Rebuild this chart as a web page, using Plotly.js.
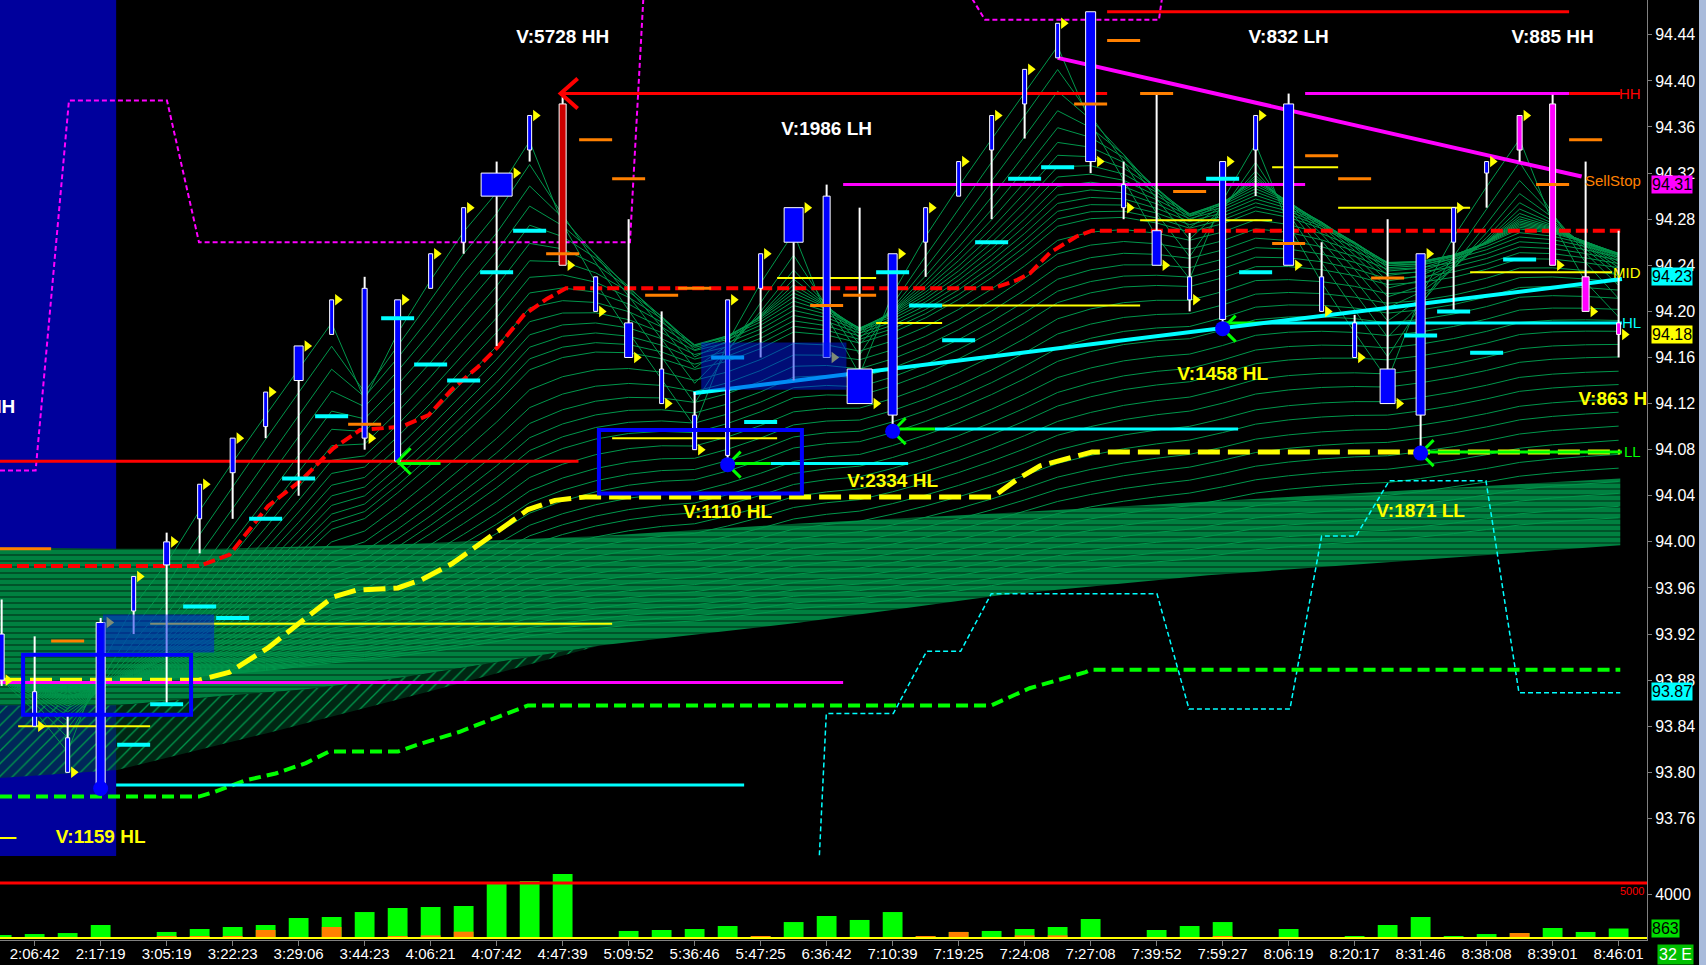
<!DOCTYPE html>
<html><head><meta charset="utf-8">
<script src="https://cdn.plot.ly/plotly-3.0.1.min.js"></script>
<style>html,body{margin:0;padding:0;background:#000;overflow:hidden}#chart{width:1706px;height:965px}</style>
</head><body><div id="chart"></div>
<script>
// ================= DATA =================
const timeLabels = ['2:06:42','2:17:19','3:05:19','3:22:23','3:29:06','3:44:23','4:06:21','4:07:42','4:47:39','5:09:52','5:36:46','5:47:25','6:36:42','7:10:39','7:19:25','7:24:08','7:27:08','7:39:52','7:59:27','8:06:19','8:20:17','8:31:46','8:38:08','8:39:01','8:46:01'];
const timeTickBars = [1,3,5,7,9,11,13,15,17,19,21,23,25,27,29,31,33,35,37,39,41,43,45,47,49];
const priceTicks = [93.76,93.80,93.84,93.88,93.92,93.96,94.00,94.04,94.08,94.12,94.16,94.20,94.24,94.28,94.32,94.36,94.40,94.44];
const volumeTicks = [4000];

const openP  = [93.92,93.87,93.83,93.786,93.94,93.98,94.02,94.06,94.10,94.14,94.18,94.22,94.07,94.22,94.26,94.30,94.34,94.38,94.23,94.19,94.15,94.11,94.075,94.22,94.26,94.30,94.15,94.11,94.26,94.30,94.34,94.38,94.42,94.46,94.31,94.27,94.23,94.193,94.34,94.38,94.23,94.19,94.15,94.11,94.26,94.32,94.34,94.38,94.23,94.19];
const highP  = [93.95,93.918,93.85,93.934,93.97,94.008,94.05,94.09,94.13,94.17,94.21,94.23,94.21,94.25,94.29,94.33,94.37,94.386,94.23,94.28,94.20,94.13,94.21,94.25,94.29,94.31,94.29,94.25,94.29,94.33,94.37,94.41,94.45,94.46,94.33,94.388,94.268,94.33,94.37,94.389,94.26,94.197,94.28,94.25,94.29,94.33,94.37,94.388,94.33,94.27];
const lowP   = [93.875,93.84,93.80,93.786,93.92,93.86,93.99,94.02,94.09,94.04,94.18,94.08,94.07,94.22,94.25,94.17,94.33,94.24,94.20,94.16,94.12,94.08,94.067,94.16,94.14,94.16,94.12,94.096,94.23,94.30,94.28,94.35,94.42,94.32,94.28,94.24,94.20,94.185,94.30,94.24,94.20,94.16,94.12,94.077,94.20,94.29,94.33,94.24,94.20,94.16];
const closeP = [93.88,93.84,93.80,93.93,93.97,94.00,94.05,94.09,94.13,94.17,94.21,94.09,94.21,94.25,94.29,94.32,94.37,94.24,94.20,94.16,94.12,94.08,94.21,94.25,94.29,94.16,94.12,94.25,94.29,94.33,94.37,94.41,94.45,94.33,94.29,94.24,94.21,94.33,94.37,94.24,94.20,94.16,94.12,94.25,94.29,94.33,94.37,94.24,94.20,94.18];

const volume     = [270,360,450,1180,90,550,820,1000,1180,1820,1910,2360,2730,2820,2910,4910,5180,5820,0,640,730,820,1090,180,1450,2000,1640,2360,180,550,640,820,1000,1730,90,730,1090,1450,90,820,90,180,1180,1910,180,360,450,910,550,863];
const sellVolume = [60,0,0,0,0,180,180,180,730,0,1000,0,180,240,575,90,90,0,0,0,0,90,0,180,90,0,0,0,180,550,0,240,240,0,0,0,0,180,90,0,0,0,0,0,0,0,450,0,90,0];
const volumeAlert = 5000;

// indicator curves (bar index, price)
const redDashX = [-0.05,5.98,6.91,8.07,9.1,10.04,10.86,11.56,12.13,12.94,13.64,14.44,15.03,15.83,16.53,17.1,30.04,30.76,31.16,31.77,32.57,33.04,49.05];
const redDashY = [93.979,93.979,93.989,94.031,94.054,94.081,94.097,94.099,94.100,94.110,94.132,94.152,94.169,94.197,94.211,94.220,94.220,94.227,94.233,94.251,94.265,94.270,94.270];
const yellowDashX = [-0.05,5.98,6.91,8.07,9.22,10.04,10.74,12.01,12.71,13.64,14.68,15.38,15.95,16.77,17.69,30.04,30.76,31.47,32.57,33.04,49.05];
const yellowDashY = [93.880,93.880,93.887,93.908,93.934,93.952,93.958,93.960,93.967,93.981,94.002,94.016,94.028,94.036,94.039,94.039,94.054,94.066,94.074,94.078,94.078];
const greenDashX = [-0.05,5.98,6.44,7.38,8.3,9.22,9.92,12.01,12.71,13.86,15.03,15.95,29.98,31.15,32.85,33.0,49.05];
const greenDashY = [93.779,93.779,93.783,93.793,93.799,93.808,93.818,93.818,93.825,93.835,93.848,93.858,93.858,93.873,93.887,93.889,93.889];
const magentaDashX = [-0.05,1.03,2.04,5.01,5.98,19.04,19.5,28.8,29.8,35.07,35.3];
const magentaDashY = [94.062,94.062,94.383,94.383,94.26,94.26,94.50,94.50,94.453,94.453,94.50];
const cyanDashX = [24.78,24.99,27.02,28.03,29.06,29.99,35.01,35.98,39.04,40.0,41.04,42.05,44.98,45.98,49.05];
const cyanDashY = [93.728,93.851,93.851,93.905,93.905,93.955,93.955,93.855,93.855,94.005,94.005,94.053,94.053,93.869,93.869];

const bandX      = [-0.05,3.44,6.56,9.22,12.07,13.86,18.13,24.2,30.37,36.56,42.74,49.05];
const bandTop    = [93.995,93.994,93.994,93.996,93.998,94.000,94.005,94.016,94.025,94.035,94.045,94.055];
const bandBottom = [93.858,93.858,93.866,93.872,93.882,93.890,93.910,93.930,93.954,93.971,93.984,93.997];
const lowerMeshX      = [-0.05,3.5,8.04,13.07,18.13];
const lowerMeshBottom = [93.795,93.802,93.834,93.871,93.910];
const ribbonPeriods = [2,3,4,5,6,7,8,9,10,11,12,13,14,15,16,18,20,22,24,26,28,31,34,37,40,44,48,52,57,62,68,74,81,88,96,105,115,126,138,150,165,180];

// horizontal levels [fromBar, toBar, price]
const redLevels     = [[16.94,33.5,94.389],[33.5,47.5,94.46],[-0.05,17.48,94.07],[47.5,49.05,94.389]];
const magentaLevels = [[-0.05,25.5,93.878],[25.5,39.5,94.31],[39.5,47.5,94.389]];
const cyanLevels    = [[3.47,22.5,93.789],[23.3,27.47,94.068],[28.28,37.47,94.098],[38.2,49.1,94.19]];
const greenLevels   = [[12.0,13.3,94.068],[21.97,23.3,94.068],[26.97,28.28,94.098],[36.98,38.2,94.19],[42.98,49.1,94.078]];
const yellowLevels  = [[-0.05,0.45,93.743],[0.5,4.5,93.84],[4.5,18.5,93.929],[18.5,23.5,94.09],[23.5,26.5,94.229],[26.5,28.5,94.19],[28.5,34.5,94.205],[34.5,38.5,94.279],[38.5,40.5,94.325],[40.5,44.5,94.29],[44.5,48.8,94.234]];
const orangeLevels  = [[-0.5,1.5,93.994]];
// per-bar stop ticks [bar, price]
const cyanTicks   = [[4,93.824],[5,93.859],[6,93.944],[7,93.934],[8,94.02],[9,94.055],[10,94.109],[12,94.194],[13,94.154],[14,94.14],[15,94.234],[16,94.27],[22,94.16],[23,94.104],[27,94.234],[28,94.205],[29,94.175],[30,94.26],[31,94.315],[32,94.325],[37,94.315],[38,94.234],[43,94.179],[44,94.2],[45,94.164],[46,94.245]];
const orangeTicks = [[2,93.914],[11,94.102],[17,94.25],[18,94.349],[19,94.315],[20,94.214],[21,94.22],[25,94.205],[26,94.214],[33,94.38],[34,94.435],[35,94.389],[36,94.304],[39,94.259],[40,94.335],[41,94.315],[42,94.229],[47,94.31],[48,94.349]];

const cyanTrendX = [20.96,49.1],  cyanTrendY = [94.129,94.228];
const magentaTrendX = [32.0,47.88], magentaTrendY = [94.42,94.317];

const pivotBars = [3,22,27,37,43];
const checkBars = [12,22,27,37,43];
const hhMarkX = [16.94], hhMarkY = [94.389];

const zoneX0 = [3.07,21.2], zoneX1 = [6.44,25.6], zoneLo = [93.904,94.132], zoneHi = [93.937,94.173];
const boxX0 = [0.65,18.1], boxX1 = [5.74,24.25], boxLo = [93.85,94.042], boxHi = [93.902,94.097];
const sessionShadeX = [-0.05,3.47];

const swingText = ['V:5728 HH','V:1986 LH','V:832 LH','V:885 HH'];
const swingX = [17,25,39,47];
const swingY = [94.437,94.357,94.437,94.437];
const cutTagText = ['HH'], cutTagX = [0.415], cutTagY = [94.116];
const pivotText = ['V:1159 HL','V:1110 HL','V:2334 HL','V:1458 HL','V:1871 LL','V:863 HL'];
const pivotX = [3,22,27,37,43,49];
const pivotY = [93.743,94.025,94.052,94.145,94.026,94.123];

const edgeTagText = ['HH','SellStop','MID','HL','LL'];
const edgeTagY = [94.389,94.314,94.234,94.19,94.078];
const priceTagY = [94.31,94.23,94.18,93.87];
const footerTag = '32 E';

// ================= STYLE =================
const FONT = 'Liberation Sans, Arial, sans-serif';
const bodyPx = [5,4,4,9,4,6,4,5,4,9,4,5,6,4,4,31,4,7,4,8,4,4,4,4,19,7,25,9,4,4,4,4,4,10,4,9,4,6,4,10,4,4,15,9,4,4,5,6,7,4];
const redBars = [17], magentaBars = [46,47,48,49];
const edgeTagColor = ['#ff0000','#ff8000','#ffff00','#00ffff','#00ff00'];
const priceTagColor = ['#ff00ff','#00ffff','#ffff00','#00ffff'];

const W = 1706, H = 965, M = {l:0, r:59, t:0, b:25};
const plotW = W - M.l - M.r, plotH = H - M.t - M.b;
const pricePanePx = 856;
const xRange = [-0.05, 49.86];
const yRange = [93.7274, 94.4702];
const volRange = [-182, 7455];
const priceDomain = [1 - pricePanePx/plotH, 1];
const pxPerBar = plotW/(xRange[1]-xRange[0]);
const pxPerPrice = pricePanePx/(yRange[1]-yRange[0]);

// ================= BUILD =================
const N = closeP.length;
const idx = Array.from({length:N}, (_, i) => i);
const skip = 'skip';

function segs(list){ const x=[], y=[]; list.forEach(([a,b,p]) => { x.push(a,b,null); y.push(p,p,null); }); return {x, y}; }
function tickSegs(list){ return segs(list.map(([i,p]) => [i-0.5, i+0.5, p])); }
function lines(xy, color, width, dash, extra){ return Object.assign({type:'scatter', mode:'lines', x:xy.x, y:xy.y, line:{color, width, dash:dash||'solid'}, hoverinfo:skip, connectgaps:false}, extra||{}); }

const traces = [];

// volume
traces.push({type:'bar', x:idx, y:volume, yaxis:'y2', width:0.6, marker:{color:'#00ff00', line:{width:0}}, hoverinfo:skip});
traces.push({type:'bar', x:idx, y:sellVolume, yaxis:'y2', width:0.6, marker:{color:'#ff8000', line:{width:0}}, hoverinfo:skip});

// lower mesh area under the band (left side)
(function(){
  const backX = [], backY = [];
  bandX.forEach((x,k) => { if (x <= lowerMeshX[lowerMeshX.length-1]) { backX.push(x); backY.push(bandBottom[k]); } });
  traces.push({type:'scatter', mode:'lines', x:lowerMeshX.concat(backX.reverse()), y:lowerMeshBottom.concat(backY.reverse()), fill:'toself', fillcolor:'rgba(0,120,60,0.5)',
    fillpattern:{shape:'/', bgcolor:'rgba(0,70,35,0.55)', fgcolor:'rgb(0,150,75)', size:9, solidity:0.15}, line:{width:0, color:'rgba(0,0,0,0)'}, hoverinfo:skip});
})();
// dense band
traces.push({type:'scatter', mode:'lines', x:bandX.concat(bandX.slice().reverse()), y:bandTop.concat(bandBottom.slice().reverse()), fill:'toself', fillcolor:'#008040',
  fillpattern:{shape:'-', bgcolor:'#008040', fgcolor:'#002010', size:6, solidity:0.16}, line:{width:0, color:'#008040'}, hoverinfo:skip});

// EMA ribbon of closes
(function(){
  const rx=[], ry=[];
  ribbonPeriods.forEach(p => {
    const a = 2/(p+1); let v = closeP[0];
    closeP.forEach((c,i) => { if (i>0) v = v + a*(c - v); rx.push(i); ry.push(v); });
    rx.push(null); ry.push(null);
  });
  traces.push(lines({x:rx, y:ry}, 'rgb(0,150,75)', 1));
})();

// thin dashed indicator lines
traces.push(lines({x:cyanDashX, y:cyanDashY}, '#00ffff', 1.5, '5px,3px'));
traces.push(lines({x:magentaDashX, y:magentaDashY}, '#ff00ff', 2, '5px,3px'));
// thick dashed curves
traces.push(lines({x:greenDashX, y:greenDashY}, '#00ff00', 4, '12px,6px'));
traces.push(lines({x:yellowDashX, y:yellowDashY}, '#ffff00', 5, '22px,8px'));
traces.push(lines({x:redDashX, y:redDashY}, '#ff0000', 4, '12px,5px'));

// levels
traces.push(lines(segs(yellowLevels), '#ffff00', 2));
traces.push(lines(segs(orangeLevels), '#ff8000', 3));
traces.push(lines(segs(magentaLevels), '#ff00ff', 3));
traces.push(lines(segs(redLevels), '#ff0000', 3));
traces.push(lines(segs(cyanLevels), '#00ffff', 3));
traces.push(lines(segs(greenLevels), '#00ff00', 3));
// trend lines
traces.push(lines({x:cyanTrendX, y:cyanTrendY}, '#00ffff', 4));
traces.push(lines({x:magentaTrendX, y:magentaTrendY}, '#ff00ff', 4));

// candle wicks
(function(){
  const wx=[], wy=[];
  idx.forEach(i => {
    const top = Math.max(openP[i], closeP[i]), bot = Math.min(openP[i], closeP[i]);
    if (highP[i] > top) { wx.push(i,i,null); wy.push(top, highP[i], null); }
    if (lowP[i] < bot)  { wx.push(i,i,null); wy.push(lowP[i], bot, null); }
  });
  traces.push(lines({x:wx, y:wy}, '#ffffff', 2));
})();
// candle bodies
function bodies(filter, color){
  const bx=[], by=[];
  idx.filter(filter).forEach(i => {
    const hw = bodyPx[i]/2/pxPerBar;
    const top = Math.max(openP[i], closeP[i]), bot = Math.min(openP[i], closeP[i]);
    bx.push(i-hw, i+hw, i+hw, i-hw, i-hw, null);
    by.push(bot, bot, top, top, bot, null);
  });
  return {type:'scatter', mode:'lines', x:bx, y:by, fill:'toself', fillcolor:color, line:{color:'#ffffff', width:1}, hoverinfo:skip};
}
traces.push(bodies(i => !redBars.includes(i) && !magentaBars.includes(i), '#0000ff'));
traces.push(bodies(i => redBars.includes(i), '#cc0000'));
traces.push(bodies(i => magentaBars.includes(i), '#ff00ff'));

// per-bar ticks
traces.push(lines(tickSegs(cyanTicks), '#00ffff', 4));
traces.push(lines(tickSegs(orangeTicks), '#ff8000', 3));

// chevrons
(function(){
  const dx = 13/pxPerBar, dy = 13/pxPerPrice;
  const gx=[], gy=[];
  checkBars.forEach(i => { gx.push(i+dx, i, i+dx, null); gy.push(lowP[i]+dy, lowP[i], lowP[i]-dy, null); });
  traces.push(lines({x:gx, y:gy}, '#00ff00', 3));
  const rdx = 17/pxPerBar, rdy = 15/pxPerPrice;
  const rx=[], ry=[];
  hhMarkX.forEach((x,k) => { rx.push(x+rdx, x, x+rdx, null); ry.push(hhMarkY[k]+rdy, hhMarkY[k], hhMarkY[k]-rdy, null); });
  traces.push(lines({x:rx, y:ry}, '#ff0000', 4));
})();

// pivot dots
traces.push({type:'scatter', mode:'markers', x:pivotBars, y:pivotBars.map(i => lowP[i]), marker:{symbol:'circle', size:15, color:'#0000ff', line:{width:0}}, hoverinfo:skip});
// close arrows
traces.push({type:'scatter', mode:'markers', x:idx.map(i => i + (bodyPx[i]/2 + 4)/pxPerBar), y:closeP, marker:{symbol:'triangle-right', size:10, color:'#ffff00', line:{width:0}}, hoverinfo:skip});

// text labels
traces.push({type:'scatter', mode:'text', x:swingX, y:swingY, text:swingText, textposition:'middle center', textfont:{family:FONT, size:19, color:'#ffffff', weight:'bold'}, hoverinfo:skip, cliponaxis:true});
traces.push({type:'scatter', mode:'text', x:cutTagX, y:cutTagY, text:cutTagText, textposition:'middle left', textfont:{family:FONT, size:19, color:'#ffffff', weight:'bold'}, hoverinfo:skip, cliponaxis:true});
traces.push({type:'scatter', mode:'text', x:pivotX, y:pivotY, text:pivotText, textposition:'middle center', textfont:{family:FONT, size:19, color:'#ffff00', weight:'bold'}, hoverinfo:skip, cliponaxis:true});

// volume lines
traces.push(lines({x:xRange, y:[volumeAlert, volumeAlert]}, '#ff0000', 3, 'solid', {yaxis:'y2'}));
traces.push(lines({x:xRange, y:[0,0]}, '#ffff00', 2, 'solid', {yaxis:'y2'}));

// shapes
const shapes = [];
shapes.push({type:'rect', xref:'x', yref:'y domain', x0:sessionShadeX[0], x1:sessionShadeX[1], y0:0, y1:1, fillcolor:'#00009c', line:{width:0}, layer:'below'});
zoneX0.forEach((x,k) => shapes.push({type:'rect', xref:'x', yref:'y', x0:x, x1:zoneX1[k], y0:zoneLo[k], y1:zoneHi[k], fillcolor:'rgba(0,25,235,0.5)', line:{width:0}, layer:'above'}));
boxX0.forEach((x,k) => shapes.push({type:'rect', xref:'x', yref:'y', x0:x, x1:boxX1[k], y0:boxLo[k], y1:boxHi[k], fillcolor:'rgba(0,0,0,0)', line:{color:'#0000ff', width:4}, layer:'above'}));
shapes.push({type:'rect', xref:'paper', yref:'paper', x0:1699/plotW, x1:1706/plotW, y0:-M.b/plotH, y1:1, fillcolor:'#a9bbdb', line:{width:0}, layer:'above'});

// annotations
const annotations = [];
edgeTagText.forEach((t,k) => annotations.push({xref:'paper', yref:'y', x:1643/plotW, y:edgeTagY[k], xanchor:'right', yanchor:'middle', text:t, showarrow:false, font:{family:FONT, size:15, color:edgeTagColor[k]}}));
priceTagY.forEach((p,k) => annotations.push({xref:'paper', yref:'y', x:1651/plotW, y:p, xanchor:'left', yanchor:'middle', text:p.toFixed(2), showarrow:false, bgcolor:priceTagColor[k], borderpad:0, font:{family:FONT, size:16, color:'#000000'}}));
annotations.push({xref:'paper', yref:'y2', x:1646/plotW, y:volumeAlert, xanchor:'right', yanchor:'top', text:String(volumeAlert), showarrow:false, font:{family:FONT, size:11, color:'#ff0000'}});
annotations.push({xref:'paper', yref:'y2', x:1651/plotW, y:volume[N-1], xanchor:'left', yanchor:'middle', text:String(volume[N-1]), showarrow:false, bgcolor:'#00dd00', borderpad:0, font:{family:FONT, size:16, color:'#000000'}});
annotations.push({xref:'paper', yref:'paper', x:1657/plotW, y:-(954-plotH)/plotH, xanchor:'left', yanchor:'middle', text:footerTag, showarrow:false, bgcolor:'#00c000', borderpad:1, font:{family:FONT, size:16, color:'#ffffff'}});

const axisCommon = {showgrid:false, zeroline:false, showline:true, linecolor:'#808080', linewidth:1, ticks:'outside', tickcolor:'#808080', fixedrange:true};
const layout = {
  width:W, height:H, margin:M, paper_bgcolor:'#000000', plot_bgcolor:'#000000',
  showlegend:false, hovermode:false, barmode:'overlay', dragmode:false,
  font:{family:FONT, color:'#ffffff'},
  xaxis:Object.assign({}, axisCommon, {range:xRange, anchor:'y2', ticklen:5, ticklabelstandoff:-5, tickvals:timeTickBars, ticktext:timeLabels, tickfont:{family:FONT, size:15, color:'#ffffff'}}),
  yaxis:Object.assign({}, axisCommon, {domain:priceDomain, range:yRange, side:'right', anchor:'x', ticklen:4, tickvals:priceTicks, ticktext:priceTicks.map(v => v.toFixed(2)), tickfont:{family:FONT, size:16, color:'#ffffff'}}),
  yaxis2:Object.assign({}, axisCommon, {domain:[0, priceDomain[0]], range:volRange, side:'right', anchor:'x', ticklen:4, tickvals:volumeTicks, ticktext:volumeTicks.map(String), tickfont:{family:FONT, size:16, color:'#ffffff'}}),
  shapes, annotations
};
Plotly.newPlot('chart', traces, layout, {staticPlot:true, displayModeBar:false});
</script>
</body></html>
